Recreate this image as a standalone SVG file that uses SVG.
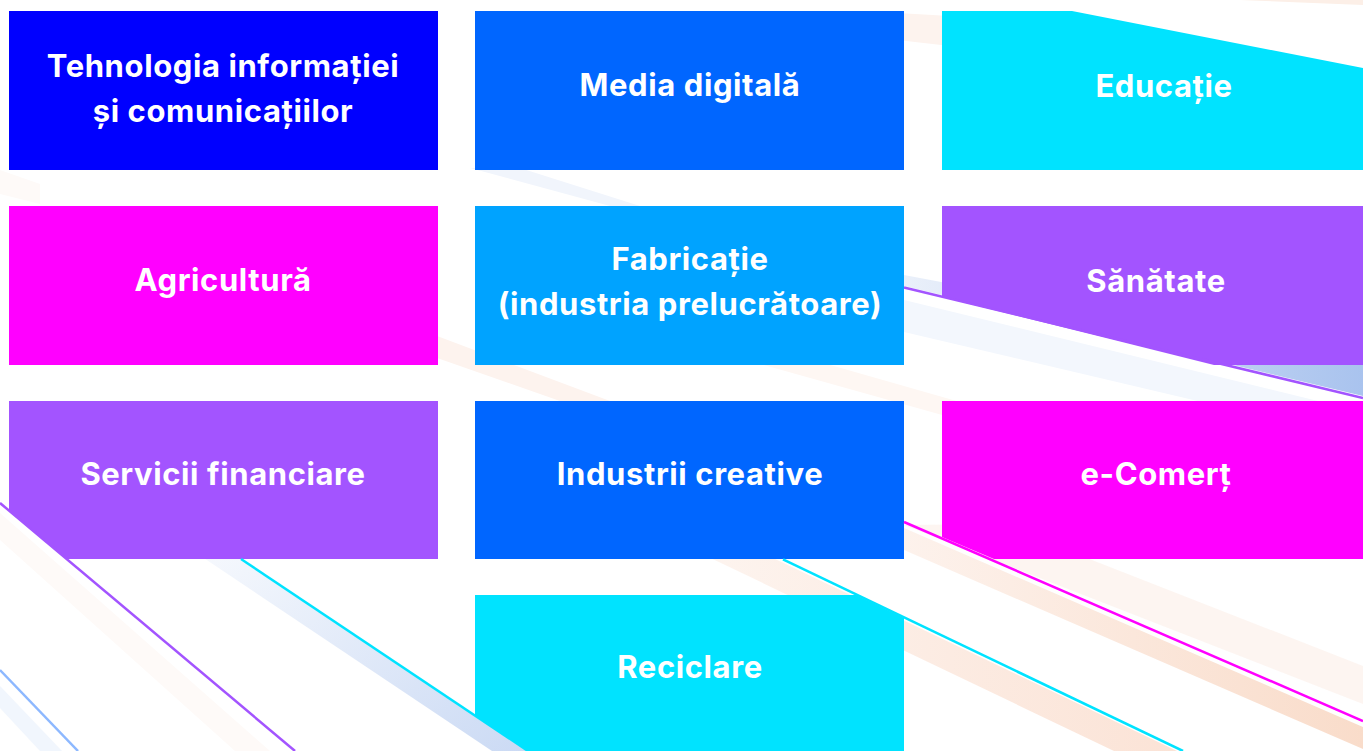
<svg xmlns="http://www.w3.org/2000/svg" width="1363" height="751" viewBox="0 0 1363 751">
<defs>
<style>
.lbl{font-family:Inter,"Noto Sans","Liberation Sans",sans-serif;font-weight:700;font-size:31px;letter-spacing:0.6px;fill:#FFFFFF;text-anchor:middle}
.ln{fill:none;stroke-width:2.5;stroke-linecap:butt}
</style>
<linearGradient id="gBlueBand" x1="0" y1="0" x2="1" y2="1">
<stop offset="0" stop-color="#ffffff"/>
<stop offset="1" stop-color="#cbdaf4"/>
</linearGradient>
<linearGradient id="gBlueBand2" x1="0" y1="0" x2="1" y2="0">
<stop offset="0" stop-color="#eaf0fa"/>
<stop offset="1" stop-color="#a9c3ee"/>
</linearGradient>
<linearGradient id="gPeach" x1="0" y1="0" x2="1" y2="0">
<stop offset="0" stop-color="#fdf2ec"/>
<stop offset="1" stop-color="#f9dcca"/>
</linearGradient>
<linearGradient id="gPeach2" x1="0" y1="0" x2="1" y2="0">
<stop offset="0" stop-color="#fdf4ef"/>
<stop offset="1" stop-color="#fbe3d6"/>
</linearGradient>
</defs>
<rect x="0" y="0" width="1363" height="751" fill="#FFFFFF"/>
<g id="background-bands">
<polygon points="880,12 950,16 950,46 880,38" fill="#fdf3ee"/>
<polygon points="1240,0 1363,0 1363,5" fill="#fcefe7"/>
<polygon points="0,170 40,184 40,204 0,194" fill="#fefaf8"/>
<polygon points="470,168 520,168 640,206 610,206" fill="#f1f5fc"/>
<polygon points="904,275 1363,362 1363,396 904,286" fill="url(#gBlueBand2)"/>
<polygon points="904,300 1363,412 1363,440 904,332" fill="#f3f7fd"/>
<polygon points="400,322 610,401 560,401 400,345" fill="#fdf3ee"/>
<polygon points="760,345 960,402 960,420 760,364" fill="#fef7f3"/>
<polygon points="1000,524 1363,666 1363,704 904,525" fill="#fcefe7" opacity="0.6"/>
<polygon points="904,528 1363,727 1363,749 904,550" fill="url(#gPeach)"/>
<polygon points="700,523 1177,751 1114,751 700,553" fill="url(#gPeach2)"/>
<polygon points="150,498 528,751 492,751 150,522" fill="url(#gBlueBand)"/>
<polygon points="0,513 270,751 235,751 0,540" fill="#fefaf8"/>
<polygon points="0,686 62,751 40,751 0,708" fill="#f1f6fd"/>
</g>
<g id="node-tic">
<rect x="9" y="11" width="429" height="159" fill="#0000FF"/>
<text class="lbl" x="223" y="77">Tehnologia informației</text>
<text class="lbl" x="223" y="122">și comunicațiilor</text>
</g>
<g id="node-media">
<rect x="475" y="11" width="429" height="159" fill="#0066FF"/>
<text class="lbl" x="690" y="96">Media digitală</text>
</g>
<g id="node-educatie">
<polygon points="942,11 1072,11 1363,68 1363,170 942,170" fill="#00E3FF"/>
<text class="lbl" x="1164" y="97">Educație</text>
</g>
<g id="node-agricultura">
<rect x="9" y="206" width="429" height="159" fill="#FF00FF"/>
<text class="lbl" x="223" y="291">Agricultură</text>
</g>
<g id="node-fabricatie">
<rect x="475" y="206" width="429" height="159" fill="#00A3FF"/>
<text class="lbl" x="690" y="270">Fabricație</text>
<text class="lbl" x="690" y="315">(industria prelucrătoare)</text>
</g>
<g id="node-sanatate">
<polygon points="942,206 1363,206 1363,365 1214,365 942,297" fill="#A354FF"/>
<text class="lbl" x="1156" y="292">Sănătate</text>
</g>
<g id="node-servicii">
<polygon points="9,401 438,401 438,559 67,559 9,511" fill="#A354FF"/>
<text class="lbl" x="223" y="485">Servicii financiare</text>
</g>
<g id="node-industrii">
<rect x="475" y="401" width="429" height="158" fill="#0066FF"/>
<text class="lbl" x="690" y="485">Industrii creative</text>
</g>
<g id="node-ecomert">
<polygon points="942,401 1363,401 1363,559 994,559 942,537" fill="#FF00FF"/>
<text class="lbl" x="1156" y="485">e-Comerț</text>
</g>
<g id="node-reciclare">
<polygon points="475,595 856,595 904,618 904,751 528,751 475,716" fill="#00E3FF"/>
<text class="lbl" x="690" y="678">Reciclare</text>
</g>
<g id="decor-lines">
<line class="ln" x1="904" y1="287.5" x2="1363" y2="398" stroke="#A354FF"/>
<line class="ln" x1="904" y1="522" x2="1363" y2="721" stroke="#FF00FF"/>
<line class="ln" x1="783" y1="559.4" x2="1183" y2="751" stroke="#00E3FF"/>
<line class="ln" x1="241" y1="559" x2="528" y2="751" stroke="#00E3FF"/>
<line class="ln" x1="0" y1="503" x2="295" y2="751" stroke="#A354FF"/>
<line class="ln" x1="0" y1="670" x2="78" y2="751" stroke="#8DB8FF" stroke-width="2"/>
</g>
</svg>
